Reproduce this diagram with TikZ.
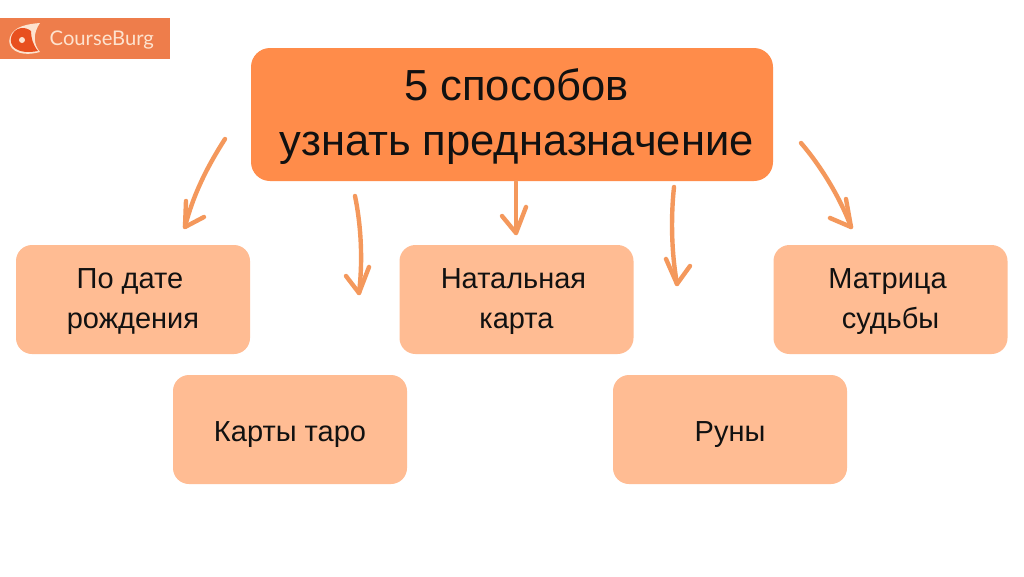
\documentclass[tikz,border=0pt]{standalone}
\usepackage{fontspec}
\setmainfont{Liberation Sans}
\newfontfamily\logofont{Lato}
\definecolor{mainbox}{HTML}{FF8C4A}
\definecolor{subbox}{HTML}{FFBC93}
\definecolor{arrowc}{HTML}{F4985C}
\definecolor{logobg}{HTML}{EE7D4B}
\definecolor{logotxt}{HTML}{FDE3CF}
\definecolor{logored}{HTML}{E8501F}
\definecolor{inkc}{HTML}{111111}
\newcommand{\boxtext}[2][2pt]{\begin{tabular}{@{}c@{}}\noalign{\vskip #1}#2\end{tabular}}
\tikzset{
  x=1pt,y=-1pt,
  mainnode/.style={fill=mainbox,rounded corners=19pt,minimum width=522pt,minimum height=133pt,inner sep=0pt,align=center,text=inkc,font=\fontsize{43.5}{55}\selectfont},
  subnode/.style={fill=subbox,rounded corners=16pt,minimum width=234pt,minimum height=109pt,inner sep=0pt,align=center,text=inkc,font=\fontsize{29}{40}\selectfont},
  arrowline/.style={draw=arrowc,line width=4.4pt,line cap=round,line join=round},
}
\begin{document}
\begin{tikzpicture}
\useasboundingbox (0,0) rectangle (1024,576);
\fill[white] (0,0) rectangle (1024,576);
% logo
\fill[logobg] (0,18) rectangle (170,59);
\fill[logotxt] (40,23) .. controls (28,24) and (14,26) .. (10,37) .. controls (6,48) and (18,58) .. (40,52) .. controls (33,44) and (33,33) .. (40,23) -- cycle;
\fill[logored] (31,31) .. controls (25,26) and (15,27) .. (11.5,36) .. controls (8,46) and (17,55) .. (38,51) .. controls (33,45) and (31,38) .. (31,31) -- cycle;
\fill[logotxt] (22,40) circle (3pt);
\node[text=logotxt,font=\logofont\fontsize{20.2}{20}\selectfont,anchor=west,inner sep=0pt] (logo) at (49.5,40.5) {CourseBurg};
% boxes
\node[mainnode] (title) at (512,114.5) {\hspace*{9pt}\boxtext[4pt]{5 способов\\узнать предназначение}};
\node[subnode] (birth) at (133,299.5) {\boxtext{По дате\hspace*{6pt}\\рождения}};
\node[subnode] (taro) at (290,429.5) {\boxtext[8pt]{Карты таро}};
\node[subnode] (natal) at (516.5,299.5) {\boxtext{Натальная\hspace*{6pt}\\карта}};
\node[subnode] (runes) at (730,429.5) {\boxtext[8pt]{Руны}};
\node[subnode] (matrix) at (890.5,299.5) {\boxtext{Матрица\hspace*{6pt}\\судьбы}};
% arrow coordinates
\coordinate (a1s) at (225,139); \coordinate (a1t) at (185,227);
\coordinate (a2s) at (355,196); \coordinate (a2t) at (359,293);
\coordinate (a3s) at (516,182); \coordinate (a3t) at (516,233);
\coordinate (a4s) at (674,187); \coordinate (a4t) at (677,284);
\coordinate (a5s) at (801,143); \coordinate (a5t) at (851,227);
\draw[arrowline] (a1s) .. controls (207,167) and (193,195) .. (a1t);
\draw[arrowline] (186,201) -- (a1t) -- (204,217);
\draw[arrowline] (a2s) .. controls (361,225) and (363,260) .. (a2t);
\draw[arrowline] (346,276) -- (a2t) -- (369,267);
\draw[arrowline] (a3s) -- (a3t);
\draw[arrowline] (502,216) -- (a3t) -- (526,207);
\draw[arrowline] (a4s) .. controls (671,215) and (671,250) .. (a4t);
\draw[arrowline] (666,259) -- (a4t) -- (690,266);
\draw[arrowline] (a5s) .. controls (820,165) and (840,197) .. (a5t);
\draw[arrowline] (846,199) -- (a5t) -- (830,218);
\end{tikzpicture}
\end{document}
